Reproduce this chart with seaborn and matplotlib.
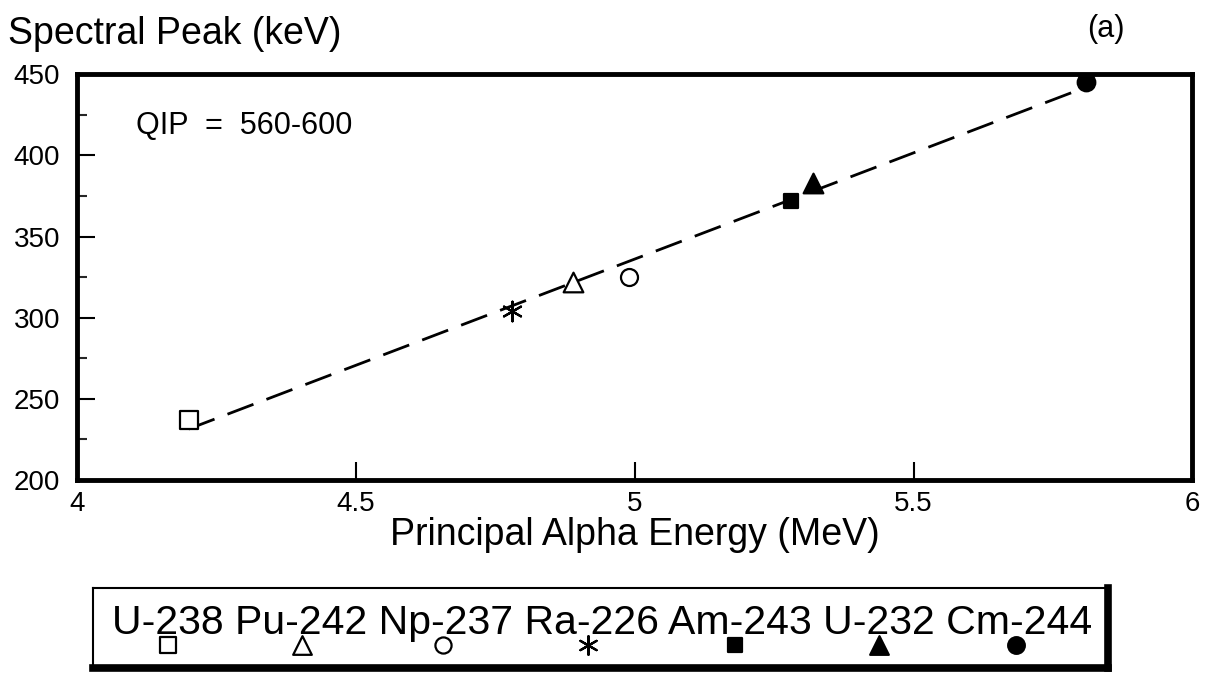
import numpy as np
import pandas as pd
import matplotlib
matplotlib.use("Agg")
import matplotlib.pyplot as plt
import seaborn as sns

isotopes = ["U-238", "Pu-242", "Np-237", "Ra-226", "Am-243", "U-232", "Cm-244"]
alpha_energy = [4.20, 4.89, 4.99, 4.78, 5.28, 5.32, 5.81]
spectral_peak = [237, 322, 325, 304, 372, 383, 445]
markers = ["s", "^", "o", (6, 2, 0), "s", "^", "o"]
filled = [False, False, False, False, True, True, True]
sizes = [150, 200, 150, 200, 110, 200, 160]

sns.set_theme(style="white")
plt.rcParams["font.family"] = ["Liberation Sans", "DejaVu Sans"]

fig = plt.figure(figsize=(12.11, 6.75), dpi=100)
ax = fig.add_axes([0.0636, 0.289, 0.921, 0.601])

df = pd.DataFrame({"energy": alpha_energy, "peak": spectral_peak})
sns.regplot(data=df, x="energy", y="peak", scatter=False, ci=None, truncate=True,
            ax=ax, line_kws=dict(color="black", lw=2.0, dashes=(10, 5)))


def draw_marker(target, xv, yv, m, f, s):
    if isinstance(m, tuple):
        sns.scatterplot(x=[xv], y=[yv], marker=m, s=s, ax=target, color="black",
                        linewidth=1.6, zorder=5)
    else:
        sns.scatterplot(x=[xv], y=[yv], marker=m, s=s, ax=target,
                        facecolor="black" if f else "white", edgecolor="black",
                        linewidth=1.6, zorder=5)


for iso, xv, yv, m, f, s in zip(isotopes, alpha_energy, spectral_peak, markers, filled, sizes):
    draw_marker(ax, xv, yv, m, f, s)

ax.set_xlim(4, 6)
ax.set_ylim(200, 450)
ax.set_xticks([4, 4.5, 5, 5.5, 6])
ax.set_xticklabels(["4", "4.5", "5", "5.5", "6"])
ax.set_yticks([200, 250, 300, 350, 400, 450])
ax.set_yticks(np.arange(225, 450, 50), minor=True)
ax.tick_params(axis="both", which="major", direction="in", length=13, width=1.5,
               labelsize=20, colors="black", bottom=True, left=True)
ax.tick_params(axis="y", which="minor", direction="in", length=7, width=1.5, left=True)
ax.tick_params(axis="x", which="major", pad=8)
ax.tick_params(axis="y", which="major", pad=12)
for sp in ax.spines.values():
    sp.set_visible(True)
    sp.set_color("black")
    sp.set_linewidth(3.5)

ax.set_xlabel("Principal Alpha Energy (MeV)", fontsize=27, color="black", labelpad=0)
ax.set_ylabel("")
fig.text(0.007, 0.935, "Spectral Peak (keV)", fontsize=27, color="black", ha="left", va="baseline")
fig.text(0.898, 0.945, "(a)", fontsize=22, color="black", ha="left", va="baseline")
ax.text(0.053, 0.872, "QIP  =  560-600", transform=ax.transAxes, fontsize=22,
        color="black", va="center")

# legend box
lax = fig.add_axes([0.0768, 0.0104, 0.838, 0.1185])
lax.set_xlim(0, 1)
lax.set_ylim(0, 1)
lax.set_xticks([])
lax.set_yticks([])
lax.set_facecolor("white")
for name, sp in lax.spines.items():
    sp.set_visible(True)
    sp.set_color("black")
    sp.set_linewidth(5.5 if name in ("right", "bottom") else 1.5)

lax.text(0.0187, 0.56, " ".join(isotopes), fontsize=29.5, color="black", ha="left", va="center")
legend_marker_x = [0.074, 0.206, 0.345, 0.488, 0.633, 0.775, 0.910]
for lx, m, f, s in zip(legend_marker_x, markers, filled, sizes):
    draw_marker(lax, lx, 0.29, m, f, s * 0.9)
lax.set_xlabel("")
lax.set_ylabel("")

fig.savefig("out.png", dpi=100)
